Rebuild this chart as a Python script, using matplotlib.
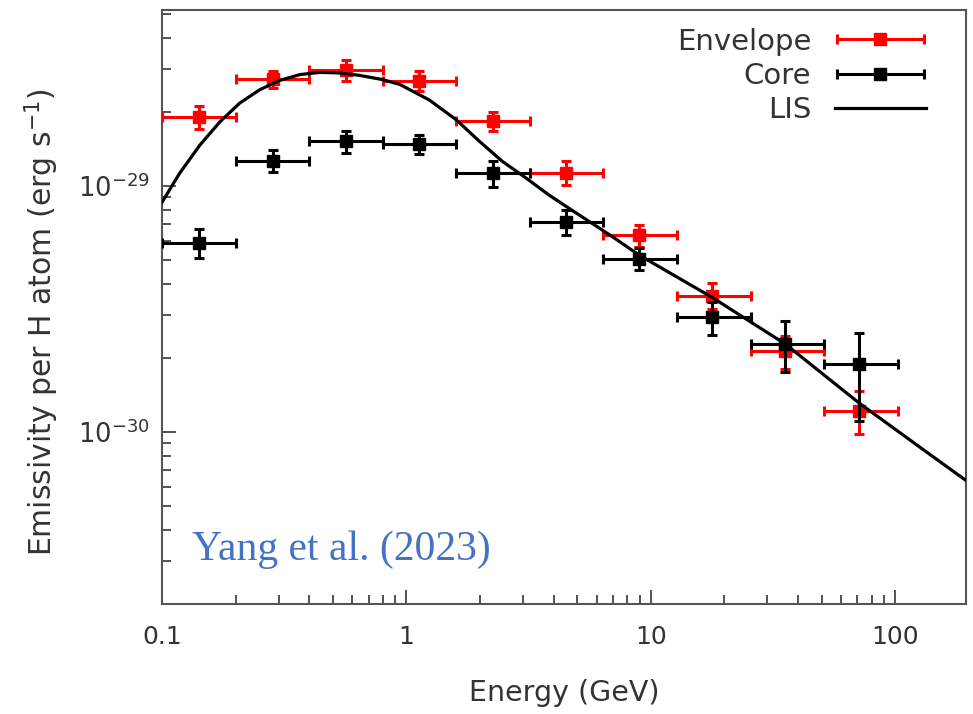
import matplotlib
matplotlib.use("Agg")
import matplotlib.pyplot as plt
from matplotlib import ticker
from matplotlib.container import ErrorbarContainer
from matplotlib.legend_handler import HandlerErrorbar

# energy bins (GeV): centres and edges
e_mid = [0.142, 0.285, 0.567, 1.13, 2.25, 4.49, 8.93, 17.8, 35.5, 71.3]
e_lo = [0.1, 0.2, 0.4, 0.8, 1.6, 3.2, 6.4, 12.8, 25.6, 51.2]
e_hi = [0.2, 0.4, 0.8, 1.6, 3.2, 6.4, 12.8, 25.6, 51.2, 102.4]

# envelope emissivity (erg s^-1 per H atom)
env = [1.91e-29, 2.73e-29, 2.97e-29, 2.67e-29, 1.84e-29, 1.13e-29, 6.3e-30, 3.56e-30, 2.13e-30, 1.22e-30]
env_lo = [1.70e-29, 2.51e-29, 2.67e-29, 2.43e-29, 1.68e-29, 1.01e-29, 5.65e-30, 3.18e-30, 1.80e-30, 0.98e-30]
env_hi = [2.11e-29, 2.95e-29, 3.27e-29, 2.95e-29, 2.01e-29, 1.26e-29, 6.93e-30, 4.02e-30, 2.45e-30, 1.47e-30]

# core emissivity
core = [5.89e-30, 1.265e-29, 1.52e-29, 1.48e-29, 1.13e-29, 7.15e-30, 5.04e-30, 2.95e-30, 2.28e-30, 1.89e-30]
core_lo = [5.1e-30, 1.14e-29, 1.36e-29, 1.35e-29, 0.99e-29, 6.31e-30, 4.54e-30, 2.49e-30, 1.76e-30, 1.11e-30]
core_hi = [6.69e-30, 1.40e-29, 1.68e-29, 1.61e-29, 1.26e-29, 7.98e-30, 5.58e-30, 3.37e-30, 2.82e-30, 2.52e-30]

# local interstellar spectrum curve
lis_e = [0.1, 0.118, 0.143, 0.173, 0.208, 0.251, 0.303, 0.366, 0.442, 0.533, 0.643,
         0.80, 0.94, 1.24, 1.60, 1.99, 2.47, 3.08, 3.83, 4.78, 5.95, 7.18, 8.93,
         17.8, 35.5, 71.3, 132, 195]
lis_y = [8.6e-30, 1.127e-29, 1.47e-29, 1.83e-29, 2.176e-29, 2.465e-29, 2.69e-29, 2.84e-29,
         2.90e-29, 2.884e-29, 2.82e-29, 2.71e-29, 2.59e-29, 2.24e-29, 1.86e-29, 1.52e-29,
         1.26e-29, 1.08e-29, 9.2e-30, 7.95e-30, 6.9e-30, 6.1e-30, 5.25e-30,
         3.53e-30, 2.28e-30, 1.31e-30, 8.4e-31, 6.35e-31]

plt.rcParams['font.family'] = ['DejaVu Sans']

fig = plt.figure(figsize=(9.73, 7.14), dpi=100)
ax = fig.add_axes([0.1665, 0.154, 0.8265, 0.832])

xerr = [[m - l for m, l in zip(e_mid, e_lo)], [h - m for m, h in zip(e_mid, e_hi)]]
env_err = [[v - l for v, l in zip(env, env_lo)], [h - v for v, h in zip(env, env_hi)]]
core_err = [[v - l for v, l in zip(core, core_lo)], [h - v for v, h in zip(core, core_hi)]]

h_env = ax.errorbar(e_mid, env, xerr=xerr, yerr=env_err, fmt='s', color='#ff0000',
                    ms=8, lw=2.2, capsize=3.5, capthick=2.2, label='Envelope', zorder=3)
h_core = ax.errorbar(e_mid, core, xerr=xerr, yerr=core_err, fmt='s', color='black',
                     ms=8, lw=2.2, capsize=3.5, capthick=2.2, label='Core', zorder=4)
h_lis, = ax.plot(lis_e, lis_y, color='black', lw=2.3, label='LIS', zorder=5)

ax.set_xscale('log')
ax.set_yscale('log')
ax.set_xlim(0.1, 195)
ax.set_ylim(2.0e-31, 5.2e-29)

ax.xaxis.set_major_formatter(ticker.FuncFormatter(lambda v, p: f"{v:g}"))
ax.xaxis.set_minor_formatter(ticker.NullFormatter())
ax.yaxis.set_minor_formatter(ticker.NullFormatter())
ax.tick_params(which='both', direction='in', top=False, right=False, color='#444444', width=1.3)
ax.tick_params(which='major', length=10, labelcolor='#333333')
ax.tick_params(axis='x', which='major', labelsize=18, pad=15)
ax.tick_params(axis='y', which='major', labelsize=18.5, pad=9)
ax.tick_params(which='minor', length=6.5)
for s in ax.spines.values():
    s.set_color('#555555')
    s.set_linewidth(1.5)

ax.set_xlabel('Energy (GeV)', fontsize=20.5, color='#333333', labelpad=22)
ax.set_ylabel('Emissivity per H atom (erg s$^{-1}$)', fontsize=21.5, color='#333333')
ax.yaxis.set_label_coords(-0.125, 0.475)

# legend shows only the horizontal bars, as in the original
h_env.has_yerr = False
h_core.has_yerr = False
leg = ax.legend(handles=[h_env, h_core, h_lis], loc='upper right', frameon=False,
                bbox_to_anchor=(0.965, 0.99), borderaxespad=0.0,
                markerfirst=False, fontsize=21, handlelength=3.15, handletextpad=0.8,
                labelspacing=0.22,
                handler_map={ErrorbarContainer: HandlerErrorbar(xerr_size=1.5)})
for t in leg.get_texts():
    t.set_color('#333333')

ax.text(0.037, 0.074, 'Yang et al. (2023)', transform=ax.transAxes, fontsize=30,
        va='baseline', color='#4472c4', family='Liberation Serif')

plt.savefig('out.png', dpi=100)
